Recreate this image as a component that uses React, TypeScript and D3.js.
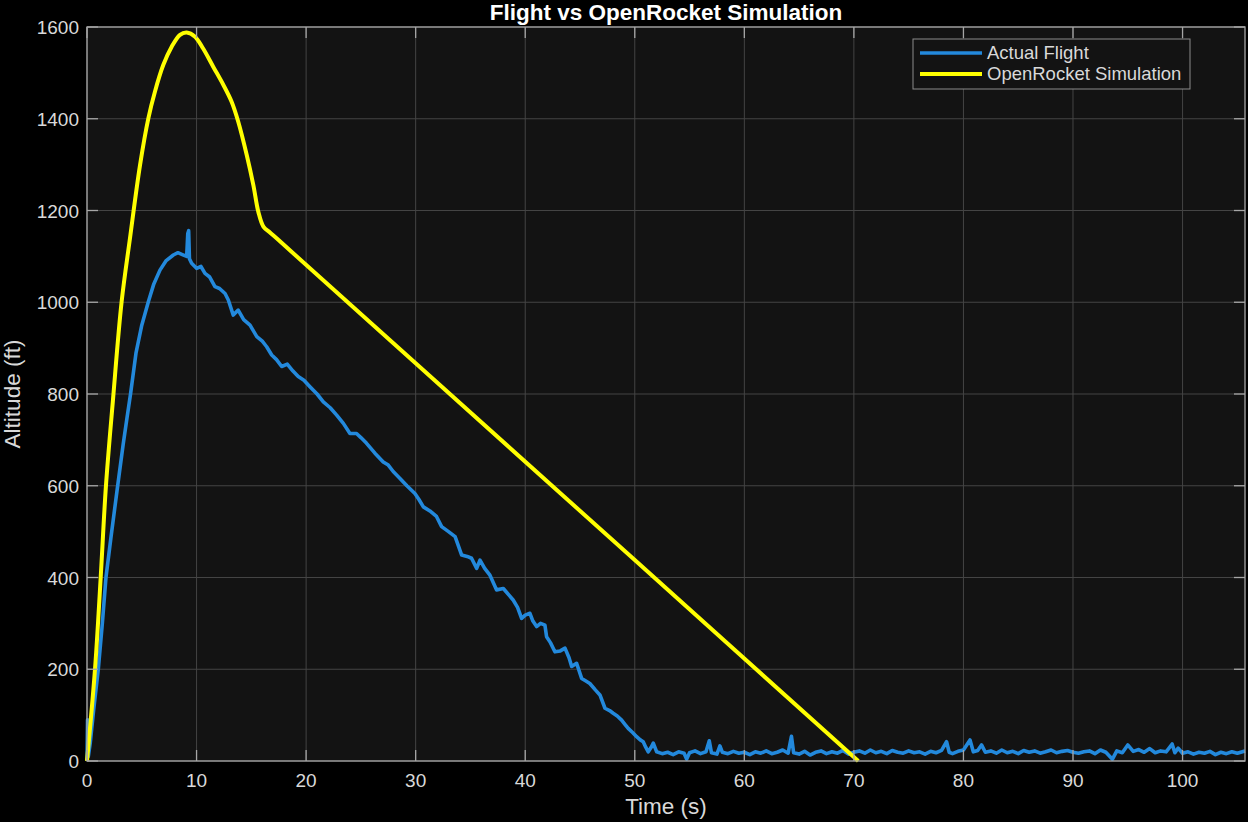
// Dependencies
import React, { useRef, useEffect } from "react";
import * as d3 from "d3";

// Chart data
const xTicks = [0, 10, 20, 30, 40, 50, 60, 70, 80, 90, 100];
const yTicks = [0, 200, 400, 600, 800, 1000, 1200, 1400, 1600];

// OpenRocket simulation: [time (s), altitude (ft)]
const simulation: [number, number][] = [
  [0, 0], [0.73, 200], [1.25, 400], [1.73, 600], [2.37, 787], [3.16, 1001],
  [3.92, 1139], [4.84, 1299], [5.6, 1401], [6.2, 1459], [6.96, 1517],
  [7.73, 1557], [8.49, 1583], [9.1, 1588], [9.86, 1579], [10.6, 1553],
  [11.53, 1513], [12.44, 1474], [13.2, 1437], [13.8, 1394], [14.58, 1321],
  [15.18, 1256], [15.64, 1197], [16.1, 1165], [16.7, 1152], [17.46, 1136],
  [30, 867], [50, 438], [70.4, 0],
];

// Actual flight log: [time (s), altitude (ft)]
const flight: [number, number][] = [
  [0, 0], [0.05, 90], [0.12, 10], [0.3, 40], [0.6, 110], [1.03, 200],
  [1.4, 300], [1.73, 400], [2.2, 490], [2.8, 600], [3.3, 690], [3.62, 743],
  [3.98, 801], [4.47, 889], [5.0, 950], [5.6, 1001], [6.1, 1040],
  [6.66, 1070], [7.2, 1090], [7.88, 1103], [8.3, 1108], [8.7, 1104],
  [9.1, 1100], [9.2, 1150], [9.28, 1156], [9.35, 1095], [9.55, 1085],
  [10.0, 1074], [10.4, 1078], [10.77, 1063], [11.2, 1055], [11.68, 1034],
  [12.1, 1030], [12.6, 1019], [12.9, 1005], [13.35, 972], [13.8, 983],
  [14.3, 962], [14.88, 950], [15.5, 925], [16.0, 915], [16.4, 903],
  [16.86, 885], [17.3, 875], [17.77, 860], [18.28, 865], [18.8, 850],
  [19.28, 838], [19.8, 830], [20.35, 816], [21.0, 800], [21.57, 783],
  [22.2, 770], [22.79, 754], [23.4, 736], [24.0, 714], [24.6, 714],
  [25.0, 705], [25.5, 693], [26.28, 671], [27.04, 652], [27.5, 645],
  [27.95, 631], [28.57, 616], [29.2, 600], [29.93, 583], [30.3, 570],
  [30.7, 554], [31.3, 545], [31.9, 533], [32.37, 511], [33.0, 500],
  [33.6, 489], [34.2, 449], [34.7, 446], [35.1, 442], [35.57, 420],
  [35.87, 438], [36.3, 420], [36.78, 405], [37.39, 373], [38.0, 376],
  [38.5, 362], [38.9, 351], [39.3, 335], [39.67, 311], [40.0, 318],
  [40.43, 322], [40.7, 305], [41.04, 293], [41.4, 300], [41.8, 296],
  [41.95, 271], [42.3, 258], [42.71, 238], [43.2, 240], [43.63, 246],
  [44.0, 225], [44.24, 206], [44.69, 213], [45.15, 180], [45.5, 175],
  [45.9, 169], [46.4, 155], [46.82, 144], [47.28, 115], [47.7, 110],
  [48.03, 104], [48.4, 98], [48.8, 89], [49.1, 80], [49.4, 71], [49.8, 62],
  [50.17, 53], [50.5, 46], [50.77, 42], [51.0, 30], [51.23, 20], [51.5, 30],
  [51.69, 39], [52.0, 20], [52.5, 16], [53, 19], [53.5, 14], [54, 20],
  [54.5, 17], [54.73, 4], [55, 18], [55.5, 22], [56, 16], [56.5, 20],
  [56.8, 44], [57.0, 18], [57.5, 15], [57.77, 33], [58, 19], [58.5, 16],
  [59, 21], [59.5, 17], [60, 19], [60.5, 14], [61, 20], [61.5, 17],
  [62, 22], [62.5, 16], [63, 19], [63.5, 24], [64, 17], [64.3, 54],
  [64.5, 18], [65, 15], [65.5, 21], [66, 13], [66.5, 19], [67, 22],
  [67.5, 16], [68, 20], [68.5, 17], [69, 23], [69.5, 15], [70, 19],
  [70.5, 22], [71, 17], [71.5, 24], [72, 18], [72.5, 21], [73, 16],
  [73.5, 23], [74, 19], [74.5, 17], [75, 22], [75.5, 18], [76, 20],
  [76.5, 15], [77, 21], [77.5, 18], [78, 23], [78.46, 42], [78.7, 19],
  [79, 16], [79.5, 21], [80, 24], [80.6, 46], [80.9, 20], [81.3, 23],
  [81.65, 35], [82, 19], [82.5, 22], [83, 17], [83.5, 24], [84, 18],
  [84.5, 21], [85, 16], [85.5, 23], [86, 19], [86.5, 22], [87, 17],
  [87.5, 20], [88, 24], [88.5, 18], [89, 21], [89.5, 23], [90, 19],
  [90.5, 17], [91, 20], [91.5, 22], [92, 16], [92.5, 24], [93, 19],
  [93.6, 4], [94, 22], [94.5, 18], [95, 35], [95.5, 21], [96, 25],
  [96.5, 19], [97, 27], [97.5, 18], [98, 22], [98.5, 20], [99.05, 37],
  [99.3, 18], [99.6, 28], [100, 17], [100.5, 20], [101, 15], [101.5, 19],
  [102, 17], [102.5, 21], [103, 14], [103.5, 19], [104, 16], [104.5, 20],
  [105, 17], [105.7, 22],
];

const legendItems = [
  { label: "Actual Flight", color: "#2389dc" },
  { label: "OpenRocket Simulation", color: "#ffff00" },
];

const FlightChart: React.FC = () => {
  const chartRef = useRef<SVGSVGElement | null>(null);
  const width = 1248;
  const height = 822;

  useEffect(() => {
    if (!chartRef.current) return;

    // Plot box in page pixels
    const margin = { top: 27, right: 3, bottom: 61, left: 87 };
    const innerW = width - margin.left - margin.right;
    const innerH = height - margin.top - margin.bottom;
    const font = "'Liberation Sans', Arial, Helvetica, sans-serif";

    const svg = d3.select(chartRef.current);
    svg.selectAll("*").remove();

    svg
      .append("rect")
      .attr("width", width)
      .attr("height", height)
      .attr("fill", "#000000");

    const g = svg
      .append("g")
      .attr("transform", `translate(${margin.left},${margin.top})`);

    // Scales
    const xScale = d3.scaleLinear().domain([0, 105.7]).range([0, innerW]);
    const yScale = d3.scaleLinear().domain([0, 1600]).range([innerH, 0]);

    g.append("rect")
      .attr("width", innerW)
      .attr("height", innerH)
      .attr("fill", "#131313");

    // Grid
    g.append("g")
      .selectAll("line")
      .data(xTicks)
      .join("line")
      .attr("x1", (d) => xScale(d))
      .attr("x2", (d) => xScale(d))
      .attr("y1", 0)
      .attr("y2", innerH)
      .attr("stroke", "#444444")
      .attr("stroke-width", 1);
    g.append("g")
      .selectAll("line")
      .data(yTicks)
      .join("line")
      .attr("x1", 0)
      .attr("x2", innerW)
      .attr("y1", (d) => yScale(d))
      .attr("y2", (d) => yScale(d))
      .attr("stroke", "#444444")
      .attr("stroke-width", 1);

    // Lines
    const flightLine = d3
      .line<[number, number]>()
      .x((d) => xScale(d[0]))
      .y((d) => yScale(d[1]));
    const simLine = d3
      .line<[number, number]>()
      .x((d) => xScale(d[0]))
      .y((d) => yScale(d[1]))
      .curve(d3.curveCatmullRom.alpha(0.5));

    g.append("path")
      .datum(flight)
      .attr("d", flightLine)
      .attr("fill", "none")
      .attr("stroke", legendItems[0].color)
      .attr("stroke-width", 3.6)
      .attr("stroke-linejoin", "round");

    g.append("path")
      .datum(simulation)
      .attr("d", simLine)
      .attr("fill", "none")
      .attr("stroke", legendItems[1].color)
      .attr("stroke-width", 4)
      .attr("stroke-linejoin", "round");

    // Box and inward ticks
    g.append("rect")
      .attr("width", innerW)
      .attr("height", innerH)
      .attr("fill", "none")
      .attr("stroke", "#a6a6a6")
      .attr("stroke-width", 1.3);

    const tickLen = 11;
    const ticks = g.append("g").attr("stroke", "#a6a6a6").attr("stroke-width", 1.3);
    xTicks.forEach((t) => {
      ticks.append("line").attr("x1", xScale(t)).attr("x2", xScale(t)).attr("y1", innerH).attr("y2", innerH - tickLen);
      ticks.append("line").attr("x1", xScale(t)).attr("x2", xScale(t)).attr("y1", 0).attr("y2", tickLen);
    });
    yTicks.forEach((t) => {
      ticks.append("line").attr("x1", 0).attr("x2", tickLen).attr("y1", yScale(t)).attr("y2", yScale(t));
      ticks.append("line").attr("x1", innerW).attr("x2", innerW - tickLen).attr("y1", yScale(t)).attr("y2", yScale(t));
    });

    // Tick labels
    g.append("g")
      .selectAll("text")
      .data(xTicks)
      .join("text")
      .attr("x", (d) => xScale(d))
      .attr("y", innerH + 26)
      .attr("text-anchor", "middle")
      .attr("font-family", font)
      .attr("font-size", 19)
      .attr("fill", "#d9d9d9")
      .text((d) => d);
    g.append("g")
      .selectAll("text")
      .data(yTicks)
      .join("text")
      .attr("x", -8)
      .attr("y", (d) => yScale(d) + 7)
      .attr("text-anchor", "end")
      .attr("font-family", font)
      .attr("font-size", 19)
      .attr("fill", "#d9d9d9")
      .text((d) => d);

    // Axis titles
    svg
      .append("text")
      .attr("x", margin.left + innerW / 2)
      .attr("y", 814)
      .attr("text-anchor", "middle")
      .attr("font-family", font)
      .attr("font-size", 22.5)
      .attr("fill", "#d9d9d9")
      .text("Time (s)");
    svg
      .append("text")
      .attr("transform", `translate(20,${margin.top + innerH / 2}) rotate(-90)`)
      .attr("text-anchor", "middle")
      .attr("font-family", font)
      .attr("font-size", 22.5)
      .attr("fill", "#d9d9d9")
      .text("Altitude (ft)");

    // Chart title
    svg
      .append("text")
      .attr("x", margin.left + innerW / 2)
      .attr("y", 20)
      .attr("text-anchor", "middle")
      .attr("font-family", font)
      .attr("font-size", 22.5)
      .attr("font-weight", "bold")
      .attr("fill", "#ffffff")
      .text("Flight vs OpenRocket Simulation");

    // Legend
    const legend = svg.append("g").attr("transform", "translate(913,39)");
    legend
      .append("rect")
      .attr("width", 277)
      .attr("height", 50)
      .attr("fill", "#131313")
      .attr("stroke", "#8c8c8c")
      .attr("stroke-width", 1);
    legendItems.forEach((item, i) => {
      const y = 14 + i * 21;
      legend
        .append("line")
        .attr("x1", 7)
        .attr("x2", 69)
        .attr("y1", y)
        .attr("y2", y)
        .attr("stroke", item.color)
        .attr("stroke-width", i === 0 ? 3.6 : 4);
      legend
        .append("text")
        .attr("x", 74)
        .attr("y", y + 6)
        .attr("font-family", font)
        .attr("font-size", 18.5)
        .attr("fill", "#d9d9d9")
        .text(item.label);
    });
  }, []);

  return (
    <svg
      ref={chartRef}
      width={width}
      height={height}
      style={{ position: "absolute", left: 0, top: 0, display: "block" }}
    />
  );
};

export default function App() {
  return <FlightChart />;
}
